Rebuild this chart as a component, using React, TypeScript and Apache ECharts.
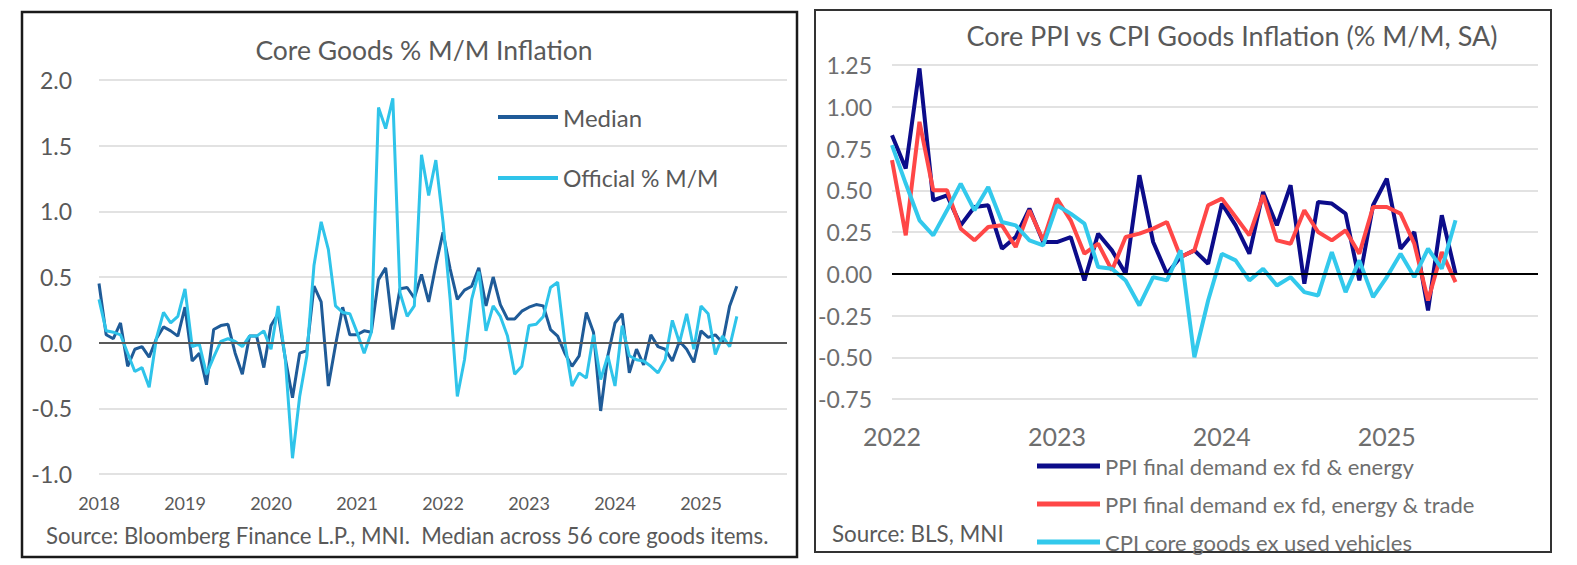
import React, { useEffect, useRef } from "react";
import * as echarts from "echarts";

// ---------- categories ----------
const leftStartYear = 2018;
const leftMonthCount = 97; // Jan 2018 .. Jan 2026 (axis span)
const rightStartYear = 2022;
const rightMonthCount = 48; // Jan 2022 .. Dec 2025 (axis span)

function monthList(startYear: number, count: number): string[] {
  const out: string[] = [];
  for (let i = 0; i < count; i++) {
    const y = startYear + Math.floor(i / 12);
    const m = (i % 12) + 1;
    out.push(`${y}-${m < 10 ? "0" + m : m}`);
  }
  return out;
}
const leftMonths = monthList(leftStartYear, leftMonthCount);
const rightMonths = monthList(rightStartYear, rightMonthCount);

// ---------- left chart: Core Goods % M/M (Jan 2018 .. Jun 2025) ----------
const medianSeries = [
  0.45, 0.06, 0.03, 0.15, -0.18, -0.05, -0.03, -0.11, 0.03, 0.12, 0.09, 0.05,
  0.27, -0.14, -0.08, -0.32, 0.10, 0.13, 0.14, -0.08, -0.24, 0.05, 0.05, -0.19,
  0.13, 0.22, -0.12, -0.42, -0.08, -0.06, 0.43, 0.31, -0.33, -0.02, 0.27, 0.06,
  0.06, 0.09, 0.08, 0.48, 0.57, 0.10, 0.41, 0.42, 0.34, 0.52, 0.31, 0.59,
  0.84, 0.56, 0.33, 0.40, 0.43, 0.57, 0.28, 0.50, 0.29, 0.18, 0.18, 0.24,
  0.27, 0.29, 0.28, 0.10, 0.05, -0.08, -0.18, -0.10, 0.23, 0.08, -0.52, -0.10,
  0.15, 0.22, -0.23, -0.05, -0.17, 0.06, -0.03, -0.05, -0.14, 0.01, -0.05, -0.15,
  0.09, 0.04, 0.06, 0.00, 0.28, 0.43,
];
const officialSeries = [
  0.33, 0.09, 0.08, 0.06, -0.08, -0.22, -0.19, -0.34, 0.03, 0.23, 0.15, 0.20,
  0.41, -0.03, -0.01, -0.24, -0.11, 0.01, 0.03, 0.01, -0.03, 0.05, 0.05, 0.09,
  -0.05, 0.28, -0.13, -0.88, -0.41, -0.10, 0.59, 0.92, 0.71, 0.28, 0.23, 0.22,
  0.08, -0.08, 0.08, 1.79, 1.63, 1.86, 0.38, 0.20, 0.28, 1.43, 1.12, 1.39,
  0.92, 0.33, -0.41, -0.13, 0.33, 0.54, 0.09, 0.28, 0.20, 0.05, -0.24, -0.18,
  0.13, 0.14, 0.20, 0.42, 0.46, 0.00, -0.33, -0.23, -0.27, 0.06, -0.28, -0.10,
  -0.33, 0.13, -0.10, -0.13, -0.14, -0.18, -0.23, -0.13, 0.17, 0.00, 0.22, -0.05,
  0.28, 0.22, -0.09, 0.05, -0.03, 0.20,
];
const leftYTicks = { min: -1, max: 2, interval: 0.5 };

// ---------- right chart: Core PPI vs CPI goods (Jan 2022 .. Jun 2025) ----------
const ppiCore = [
  0.83, 0.63, 1.23, 0.44, 0.47, 0.29, 0.40, 0.41, 0.15, 0.22, 0.39, 0.19,
  0.19, 0.22, -0.04, 0.24, 0.14, 0.00, 0.59, 0.19, 0.00, 0.10, 0.14, 0.06,
  0.42, 0.29, 0.12, 0.49, 0.29, 0.53, -0.06, 0.43, 0.42, 0.36, -0.04, 0.41,
  0.57, 0.15, 0.25, -0.22, 0.35, 0.00,
];
const ppiCoreExTrade = [
  0.68, 0.23, 0.91, 0.50, 0.50, 0.27, 0.20, 0.28, 0.29, 0.16, 0.38, 0.20,
  0.45, 0.32, 0.12, 0.18, 0.02, 0.22, 0.24, 0.27, 0.31, 0.10, 0.14, 0.41,
  0.45, 0.34, 0.23, 0.47, 0.20, 0.18, 0.38, 0.25, 0.20, 0.26, 0.12, 0.40,
  0.40, 0.36, 0.18, -0.16, 0.13, -0.05,
];
const cpiCoreGoods = [
  0.77, 0.54, 0.32, 0.23, 0.38, 0.54, 0.38, 0.52, 0.31, 0.29, 0.20, 0.17,
  0.41, 0.36, 0.30, 0.04, 0.03, -0.04, -0.19, -0.02, -0.04, 0.14, -0.50, -0.16,
  0.12, 0.08, -0.04, 0.03, -0.07, -0.02, -0.11, -0.13, 0.13, -0.11, 0.08, -0.14,
  -0.02, 0.12, -0.02, 0.15, 0.03, 0.32,
];
const rightYTicks = { min: -0.75, max: 1.25, interval: 0.25 };

const leftNames = ["Median", "Official % M/M"];
const rightNames = [
  "PPI final demand ex fd & energy",
  "PPI final demand ex fd, energy & trade",
  "CPI core goods ex used vehicles",
];

const FONT = "Lato, 'Noto Sans', sans-serif";
const GRAY = "#595959";
const GRAY2 = "#6e6e6e";
const GRID_LINE = "#d9d9d9";
const C_MEDIAN = "#1f5b98";
const C_OFFICIAL = "#2fc4ea";
const C_NAVY = "#0c0c8a";
const C_RED = "#ff4747";
const C_CYAN = "#33c9ec";

const isJan = (_: number, v: string) => v.endsWith("-01");

export default function App() {
  const ref = useRef<HTMLDivElement>(null);
  useEffect(() => {
    if (!ref.current) return;
    const chart = echarts.init(ref.current, null, { renderer: "svg" });
    const option: any = {
      animation: false,
      backgroundColor: "#ffffff",
      textStyle: { fontFamily: FONT },
      title: [
        {
          text: "Core Goods % M/M Inflation",
          left: 424,
          top: 36,
          textAlign: "center",
          padding: 0,
          textStyle: { fontSize: 26.5, fontWeight: "normal", color: GRAY, fontFamily: FONT },
        },
        {
          text: "Core PPI vs CPI Goods Inflation (% M/M, SA)",
          left: 1232,
          top: 22,
          textAlign: "center",
          padding: 0,
          textStyle: { fontSize: 27, fontWeight: "normal", color: GRAY, fontFamily: FONT },
        },
      ],
      grid: [
        { left: 99, top: 80, width: 688, height: 394, containLabel: false },
        { left: 892, top: 65, width: 646, height: 334, containLabel: false },
      ],
      xAxis: [
        {
          type: "category",
          gridIndex: 0,
          data: leftMonths,
          boundaryGap: false,
          axisLine: { show: false },
          axisTick: { show: false },
          splitLine: { show: false },
          axisLabel: {
            interval: (i: number, v: string) => isJan(i, v) && !v.startsWith("2026"),
            formatter: (v: string) => v.slice(0, 4),
            fontSize: 18,
            color: GRAY,
            margin: 20,
            fontFamily: FONT,
          },
        },
        {
          type: "category",
          gridIndex: 1,
          data: rightMonths,
          boundaryGap: false,
          axisLine: { show: false },
          axisTick: { show: false },
          splitLine: { show: false },
          axisLabel: {
            interval: isJan,
            formatter: (v: string) => v.slice(0, 4),
            fontSize: 25,
            color: GRAY2,
            margin: 24,
            fontFamily: FONT,
          },
        },
      ],
      yAxis: [
        {
          type: "value",
          gridIndex: 0,
          min: leftYTicks.min,
          max: leftYTicks.max,
          interval: leftYTicks.interval,
          axisLine: { show: false },
          axisTick: { show: false },
          splitLine: { lineStyle: { color: GRID_LINE, width: 1.5 } },
          axisLabel: {
            formatter: (v: number) => v.toFixed(1),
            fontSize: 23,
            color: GRAY,
            margin: 27,
            fontFamily: FONT,
          },
        },
        {
          type: "value",
          gridIndex: 1,
          min: rightYTicks.min,
          max: rightYTicks.max,
          interval: rightYTicks.interval,
          axisLine: { show: false },
          axisTick: { show: false },
          splitLine: { lineStyle: { color: GRID_LINE, width: 1.5 } },
          axisLabel: {
            formatter: (v: number) => v.toFixed(2),
            fontSize: 23,
            color: GRAY2,
            margin: 20,
            fontFamily: FONT,
          },
        },
      ],
      legend: [
        {
          data: [leftNames[0]],
          left: 498,
          top: 105,
          orient: "vertical",
          icon: "rect",
          itemWidth: 60,
          itemHeight: 4,
          padding: 0,
          selectedMode: false,
          textStyle: { fontSize: 24, color: GRAY, lineHeight: 24, fontFamily: FONT },
        },
        {
          data: [leftNames[1]],
          left: 498,
          top: 166,
          orient: "vertical",
          icon: "rect",
          itemWidth: 60,
          itemHeight: 4,
          padding: 0,
          selectedMode: false,
          textStyle: { fontSize: 23, color: GRAY, lineHeight: 24, fontFamily: FONT },
        },
        ...rightNames.map((n, k) => ({
          data: [n],
          left: 1037,
          top: [455, 493, 531][k],
          orient: "vertical",
          icon: "rect",
          itemWidth: 63,
          itemHeight: 5,
          padding: 0,
          selectedMode: false,
          textStyle: { fontSize: 22, color: GRAY2, lineHeight: 22, fontFamily: FONT },
        })),
      ],
      graphic: [
        {
          type: "rect",
          shape: { x: 22, y: 12, width: 775, height: 545 },
          style: { fill: "none", stroke: "#1a1a1a", lineWidth: 2.5 },
          silent: true,
        },
        {
          type: "rect",
          shape: { x: 815, y: 10, width: 736, height: 542 },
          style: { fill: "none", stroke: "#333333", lineWidth: 2 },
          silent: true,
        },
        {
          type: "text",
          x: 46,
          y: 535,
          style: {
            text: "Source: Bloomberg Finance L.P., MNI.  Median across 56 core goods items.",
            fontSize: 22.2,
            fontFamily: FONT,
            fill: GRAY,
            verticalAlign: "middle",
          },
          silent: true,
        },
        {
          type: "text",
          x: 832,
          y: 533,
          style: {
            text: "Source: BLS, MNI",
            fontSize: 22.4,
            fontFamily: FONT,
            fill: GRAY,
            verticalAlign: "middle",
          },
          silent: true,
        },
      ],
      series: [
        {
          name: leftNames[0],
          type: "line",
          xAxisIndex: 0,
          yAxisIndex: 0,
          data: medianSeries,
          symbol: "none",
          lineStyle: { color: C_MEDIAN, width: 3 },
          itemStyle: { color: C_MEDIAN },
          markLine: {
            silent: true,
            symbol: ["none", "none"],
            label: { show: false },
            lineStyle: { color: "#595959", width: 2, type: "solid" },
            data: [{ yAxis: 0 }],
          },
        },
        {
          name: leftNames[1],
          type: "line",
          xAxisIndex: 0,
          yAxisIndex: 0,
          data: officialSeries,
          symbol: "none",
          lineStyle: { color: C_OFFICIAL, width: 3 },
          itemStyle: { color: C_OFFICIAL },
        },
        {
          name: rightNames[0],
          type: "line",
          xAxisIndex: 1,
          yAxisIndex: 1,
          data: ppiCore,
          symbol: "none",
          lineStyle: { color: C_NAVY, width: 4 },
          itemStyle: { color: C_NAVY },
          markLine: {
            silent: true,
            symbol: ["none", "none"],
            label: { show: false },
            lineStyle: { color: "#000000", width: 2, type: "solid" },
            data: [{ yAxis: 0 }],
          },
        },
        {
          name: rightNames[1],
          type: "line",
          xAxisIndex: 1,
          yAxisIndex: 1,
          data: ppiCoreExTrade,
          symbol: "none",
          lineStyle: { color: C_RED, width: 4 },
          itemStyle: { color: C_RED },
        },
        {
          name: rightNames[2],
          type: "line",
          xAxisIndex: 1,
          yAxisIndex: 1,
          data: cpiCoreGoods,
          symbol: "none",
          lineStyle: { color: C_CYAN, width: 4 },
          itemStyle: { color: C_CYAN },
        },
      ],
    };
    chart.setOption(option);
    return () => chart.dispose();
  }, []);
  return (
    <div
      ref={ref}
      style={{ position: "fixed", left: 0, top: 0, width: 1577, height: 565, background: "#fff" }}
    />
  );
}
